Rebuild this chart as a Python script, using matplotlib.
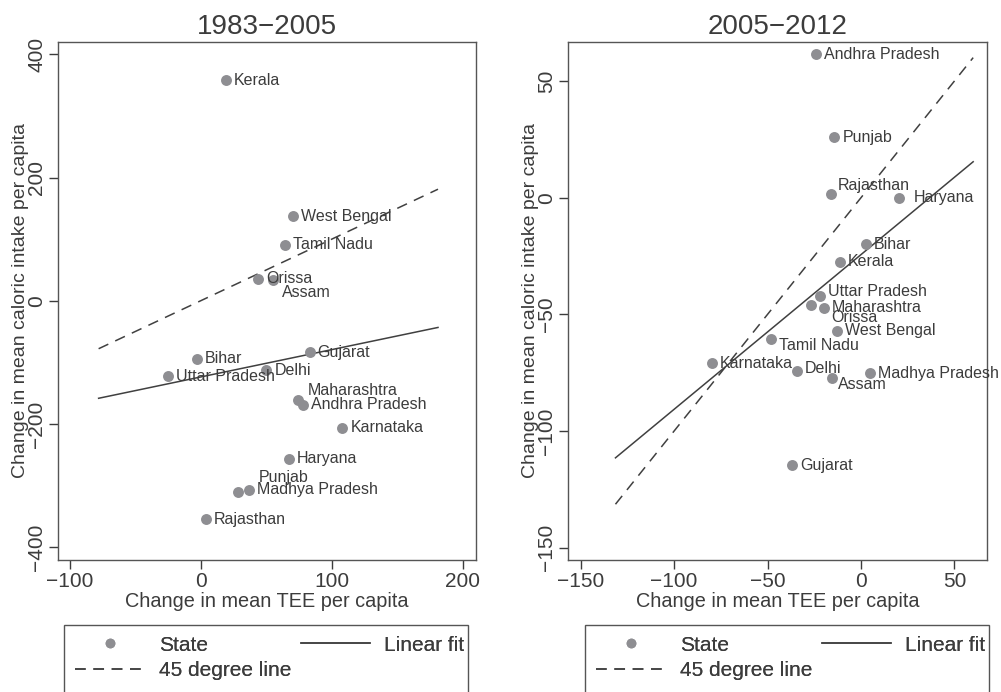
import numpy as np
import matplotlib.pyplot as plt
from matplotlib.lines import Line2D
from matplotlib.patches import Rectangle

plt.rcParams['font.family'] = ['Liberation Sans', 'DejaVu Sans']

# Data
states_a = ['Kerala', 'West Bengal', 'Tamil Nadu', 'Orissa', 'Assam', 'Bihar',
            'Uttar Pradesh', 'Gujarat', 'Delhi', 'Maharashtra', 'Andhra Pradesh',
            'Karnataka', 'Haryana', 'Punjab', 'Madhya Pradesh', 'Rajasthan']
tee_a = [19, 70, 64, 43.5, 55, -3, -25, 83, 50, 74, 78, 108, 67, 28, 37, 4]
cal_a = [358, 137, 91, 36, 33, -94, -123, -84, -113, -161, -169, -206, -257, -310, -307, -355]
fit_a = (-123.8, 0.444)      # intercept, slope
range_a = (-78, 181)

states_b = ['Andhra Pradesh', 'Punjab', 'Rajasthan', 'Haryana', 'Bihar', 'Kerala',
            'Uttar Pradesh', 'Orissa', 'Maharashtra', 'West Bengal', 'Tamil Nadu',
            'Karnataka', 'Delhi', 'Assam', 'Madhya Pradesh', 'Gujarat']
tee_b = [-24, -14.3, -16, 20.5, 2.7, -11.4, -22, -27, -20, -13, -48.4, -80, -34.4, -15.5, 4.8, -37]
cal_b = [61.4, 25.8, 1.6, -0.1, -20, -27.4, -42, -46.2, -47.1, -57, -60.7, -71, -74.5, -77.5, -75.3, -114.7]
fit_b = (-24.4, 0.663)
range_b = (-131.4, 60)

# label offsets in pixels (right, up)
off_a = {'Assam': (9, -12), 'Maharashtra': (10, 9), 'Punjab': (21, 14)}
off_b = {'Rajasthan': (7, 8), 'Haryana': (14, 0), 'Uttar Pradesh': (8, 4),
         'Orissa': (21, -12), 'Tamil Nadu': (8, -6), 'Assam': (6, -6), 'Delhi': (8, 3)}

TXT = '#3c3c3c'
DOT = '#8e8e92'
LINE = '#404040'


def panel(ax, title, states, x, y, fit, xr, offs, xlim, ylim, xticks, yticks):
    ax.set_xlim(*xlim)
    ax.set_ylim(*ylim)
    xs = np.array(xr)
    ax.plot(xs, xs, ls=(0, (7, 5)), color=LINE, lw=1.1)
    ax.plot(xs, fit[0] + fit[1] * xs, color=LINE, lw=1.1)
    ax.scatter(x, y, s=62, color=DOT, zorder=3, linewidths=0)
    for s, xi, yi in zip(states, x, y):
        dx, dy = offs.get(s, (8, 0))
        ax.annotate(s, (xi, yi), xytext=(dx, dy), textcoords='offset pixels',
                    ha='left', va='center', fontsize=11.5, color=TXT, zorder=4)
    ax.set_xticks(xticks)
    ax.set_yticks(yticks)
    ax.set_xticklabels([str(t).replace('-', '\u2212') for t in xticks])
    ax.set_yticklabels([str(t).replace('-', '\u2212') for t in yticks])
    ax.tick_params(axis='y', labelrotation=90)
    for lab in ax.get_yticklabels():
        lab.set_va('center')
    ax.tick_params(length=6.5, width=1, color=TXT, labelsize=15, labelcolor=TXT, pad=2)
    for sp in ax.spines.values():
        sp.set_color('#555555')
        sp.set_linewidth(1)
    ax.set_title(title, fontsize=20, color=TXT, pad=6)
    ax.set_xlabel('Change in mean TEE per capita', fontsize=14.3, color=TXT, labelpad=1)
    ax.set_ylabel('Change in mean caloric intake per capita', fontsize=14, color=TXT, labelpad=-1)


fig = plt.figure(figsize=(10.01, 6.92), dpi=100)
W, H = 1001, 692
ax1 = fig.add_axes([58 / W, 1 - 560 / H, 418 / W, 518 / H])
ax2 = fig.add_axes([568 / W, 1 - 560 / H, 419 / W, 518 / H])

panel(ax1, '1983\u22122005', states_a, tee_a, cal_a, fit_a, range_a, off_a,
      (-109, 210), (-421, 420), [-100, 0, 100, 200], [-400, -200, 0, 200, 400])
panel(ax2, '2005\u22122012', states_b, tee_b, cal_b, fit_b, range_b, off_b,
      (-156.8, 67.4), (-155.3, 66.7), [-150, -100, -50, 0, 50], [-150, -100, -50, 0, 50])

handles = [Line2D([], [], ls='none', marker='o', ms=7, color=DOT, mew=0),
           Line2D([], [], ls=(0, (7, 5)), color=LINE, lw=1.1),
           Line2D([], [], color=LINE, lw=1.1)]
labels = ['State', '45 degree line', 'Linear fit']
for x0 in (64, 585):
    # legend box runs off the bottom of the figure, as in the original
    fig.add_artist(Rectangle((x0 / W, -0.05), 404 / W, 0.05 + 1 - 625 / H,
                             transform=fig.transFigure, fill=False,
                             edgecolor='#555555', lw=1))
    leg = fig.legend(handles, labels, ncol=2, loc='upper left', mode='expand',
                     bbox_to_anchor=(x0 / W, 1 - 625 / H, 412 / W, 0.001),
                     borderaxespad=0, fontsize=15, handlelength=3.3, handletextpad=0.7,
                     labelspacing=0.3, borderpad=0.55, frameon=False, labelcolor=TXT)
    fig.add_artist(leg)

fig.savefig('out.png', dpi=100)
